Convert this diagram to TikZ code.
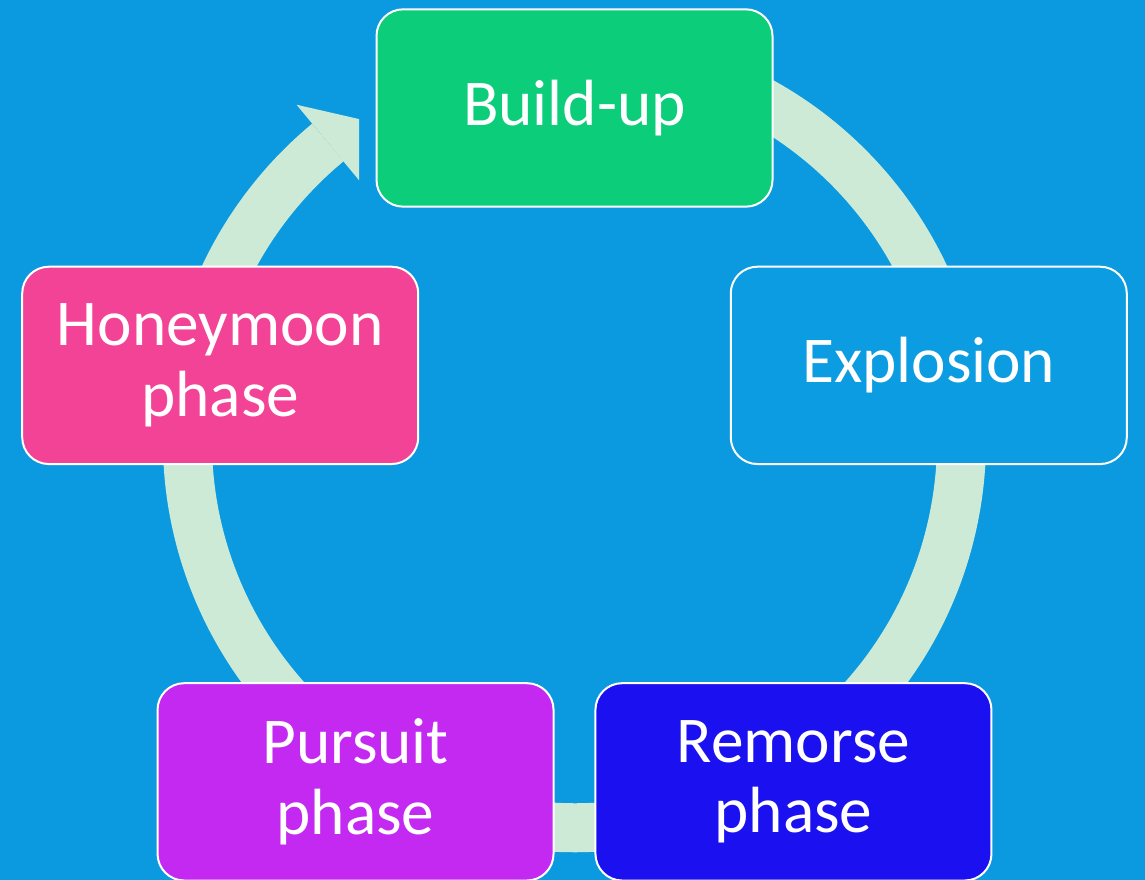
\documentclass[tikz,border=0pt]{standalone}
\usepackage{fontspec}
\setmainfont{Carlito}
\definecolor{Sky}{HTML}{0B9ADF}
\definecolor{Mint}{HTML}{CDEAD6}
\definecolor{Jade}{HTML}{0BCD7A}
\definecolor{Azure}{HTML}{0C9CE1}
\definecolor{Indigo}{HTML}{1B11F0}
\definecolor{Violet}{HTML}{C329F0}
\definecolor{Rose}{HTML}{F34397}

\begin{document}
\begin{tikzpicture}[
  x=0.75pt, y=0.75pt,
  phase/.style = {draw=white, line width=1.5pt, fill=#1, rounded corners=20pt,
    minimum width=297pt, minimum height=148pt, inner sep=0pt, align=center,
    text=white, font=\fontsize{49}{53}\selectfont},
  cyclearc/.style = {draw=Mint, line width=36.75pt},
  ]
  \fill[Sky] (0,0) rectangle (1145,880);
  \useasboundingbox (0,0) rectangle (1145,880);
  \coordinate (hub) at (574.5,399.5);
  \coordinate (ring) at (574.5,439.3);
  % circular arrow behind the boxes
  \coordinate (start) at ([shift={(80:387)}]ring);
  \coordinate (barbout) at ([shift={(129.6:436)}]ring);
  \coordinate (tip) at ([shift={(123.8:387)}]ring);
  \coordinate (barbin) at ([shift={(129.6:338)}]ring);
  \draw[cyclearc] (start) arc[start angle=80, end angle=-230.4, radius=290.25pt];
  \fill[Mint] (barbout) -- (tip) -- (barbin) -- cycle;
  %
  \node[phase=Jade]   (build)     at ([shift={(90:372.5)}]hub)  {Build-up};
  \node[phase=Azure]  (explosion) at ([shift={(18:372.5)}]hub)  {Explosion};
  \node[phase=Indigo] (remorse)   at ([shift={(-54:372.5)}]hub) {Remorse\\phase};
  \node[phase=Violet] (pursuit)   at ([shift={(234:372.5)}]hub) {Pursuit\\phase};
  \node[phase=Rose]   (honeymoon) at ([shift={(162:372.5)}]hub) {Honeymoon\\phase};
\end{tikzpicture}
\end{document}
